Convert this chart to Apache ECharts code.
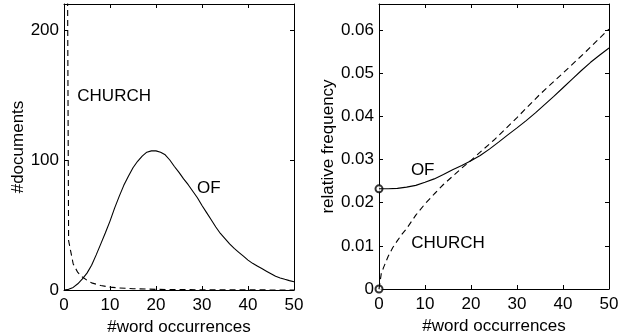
<!DOCTYPE html>
<html>
<head>
<meta charset="utf-8">
<script src="https://cdn.jsdelivr.net/npm/echarts@6/dist/echarts.min.js"></script>
<style>html,body{margin:0;padding:0;background:#fff}#c{width:631px;height:334px}</style>
</head>
<body>
<div id="c"></div>
<script>
// ---- data ----
// Left panel: number of documents vs number of word occurrences
var xOfLeft = [0,1,2,3,4,5,6,7,8,9,10,11,12,13,14,15,16,17,18,19,20,21,22,23,24,25,26,27,28,29,30,31,32,33,34,35,36,37,38,39,40,41,42,43,44,45,46,47,48,49,50];
var ofLeft  = [0,0.5,2,4.8,8.5,13,19,27,35.5,44,53,63,72,80.5,87.5,94,99,103,106,107,107,106,104,100,95,90.5,85.5,81,76,71,65,59.5,54,48.5,43.5,39.5,35.5,32,29,26,23,20.5,18.5,16.5,14.5,12.5,10.5,9.3,8.2,7.2,6.4];
var xChurchLeft = [0,1,2,3,4,5,6,8,10,12,15,20,25,30,40,50];
var churchLeft  = [900,38,20,13.5,10,7.5,5.5,3.4,2.2,1.6,1,0.5,0.3,0.2,0.1,0];
// Right panel: relative frequency vs number of word occurrences
var xOfRight = [0,2,4,6,8,10,12,14,16,18,20,22,24,26,28,30,32,34,36,38,40,42,44,46,48,50];
var ofRight  = [0.0232,0.0232,0.0233,0.0236,0.024,0.0247,0.0255,0.0265,0.0276,0.0286,0.0297,0.0309,0.0324,0.034,0.0357,0.0373,0.039,0.0408,0.0427,0.0446,0.0466,0.0486,0.0506,0.0525,0.0542,0.0558];
var xChurchRight = [0,0.5,1,2,3,4,5,6,8,10,12,14,16,18,20,22,25,30,35,40,45,50];
var churchRight  = [0,0.0036,0.005,0.0076,0.0096,0.0112,0.0127,0.014,0.0171,0.0197,0.022,0.0242,0.0261,0.028,0.0298,0.0317,0.0345,0.0397,0.0451,0.05,0.055,0.0602];
// axes
var xTicks = [0,10,20,30,40,50];
var yTicksLeft = [0,100,200];
var yTicksRight = [0,0.01,0.02,0.03,0.04,0.05,0.06];
var xName = '#word occurrences';
var yNameLeft = '#documents';
var yNameRight = 'relative frequency';
var labelsLeft = [{text:'CHURCH', x:10.9, y:149}, {text:'OF', x:31.5, y:78}];
var labelsRight = [{text:'OF', x:9.5, y:0.0276}, {text:'CHURCH', x:15, y:0.0106}];

function pairs(xs, ys){ return xs.map(function(x,i){ return [x, ys[i]]; }); }

var FONT = 'Liberation Sans, Arial, sans-serif';
var FS = 17;

function xAx(grid, pos, show){
  return {
    type:'value', gridIndex:grid, position:pos, min:0, max:50, interval:10,
    axisLine:{show:true, onZero:false, lineStyle:{color:'#000', width:1}},
    axisTick:{show:true, inside:true, length:4, lineStyle:{color:'#000'}},
    axisLabel:{show:show, color:'#000', fontFamily:FONT, fontSize:FS, margin:7,
      formatter:function(v){ return xTicks.indexOf(v) >= 0 ? String(v) : ''; }},
    splitLine:{show:false},
    name: show ? xName : '', nameLocation:'middle', nameGap:20,
    nameTextStyle:{color:'#000', fontFamily:FONT, fontSize:FS}
  };
}
function yAx(grid, pos, show, max, interval, ticks, name, gap){
  return {
    type:'value', gridIndex:grid, position:pos, min:0, max:max, interval:interval,
    axisLine:{show:true, onZero:false, lineStyle:{color:'#000', width:1}},
    axisTick:{show:true, inside:true, length:4, lineStyle:{color:'#000'}},
    axisLabel:{show:show, color:'#000', fontFamily:FONT, fontSize:FS, margin:5,
      formatter:function(v){
        for (var i=0;i<ticks.length;i++){ if (Math.abs(ticks[i]-v) < 1e-9) return String(ticks[i]); }
        return '';
      }},
    splitLine:{show:false},
    name: show ? name : '', nameLocation:'middle', nameGap:gap,
    nameTextStyle:{color:'#000', fontFamily:FONT, fontSize:FS}
  };
}
function labelPoints(list){
  return {
    symbol:'circle', symbolSize:1, itemStyle:{color:'rgba(0,0,0,0)'},
    silent:true, animation:false,
    label:{show:true, position:'inside', color:'#000', fontFamily:FONT, fontSize:FS,
      formatter:function(p){ return p.name; }},
    data:list.map(function(l){ return {name:l.text, coord:[l.x, l.y]}; })
  };
}

var chart = echarts.init(document.getElementById('c'), null, {renderer:'canvas'});
chart.setOption({
  backgroundColor:'#fff',
  animation:false,
  grid:[
    {left:64, top:4, width:230, height:286, containLabel:false, outerBoundsMode:'none'},
    {left:379, top:4, width:230, height:285, containLabel:false, outerBoundsMode:'none'}
  ],
  xAxis:[ xAx(0,'bottom',true), xAx(0,'top',false), xAx(1,'bottom',true), xAx(1,'top',false) ],
  yAxis:[
    yAx(0,'left',true,220,100,yTicksLeft,yNameLeft,34),
    yAx(0,'right',false,220,100,yTicksLeft,'',0),
    yAx(1,'left',true,0.066,0.01,yTicksRight,yNameRight,41),
    yAx(1,'right',false,0.066,0.01,yTicksRight,'',0)
  ],
  series:[
    {type:'line', xAxisIndex:0, yAxisIndex:0, data:pairs(xOfLeft, ofLeft),
     symbol:'none', lineStyle:{color:'#000', width:1.1}, silent:true, markPoint:labelPoints(labelsLeft)},
    {type:'line', xAxisIndex:0, yAxisIndex:0, data:pairs(xChurchLeft, churchLeft), clip:true,
     symbol:'none', lineStyle:{color:'#000', width:1.1, type:[6,4]}, silent:true},
    {type:'line', xAxisIndex:2, yAxisIndex:2, data:pairs(xOfRight, ofRight),
     symbol:'none', lineStyle:{color:'#000', width:1.1}, silent:true, markPoint:labelPoints(labelsRight)},
    {type:'line', xAxisIndex:2, yAxisIndex:2, data:pairs(xChurchRight, churchRight),
     symbol:'none', lineStyle:{color:'#000', width:1.1, type:[6,4]}, silent:true},
    {type:'scatter', xAxisIndex:2, yAxisIndex:2, silent:true, clip:false,
     data:[[xOfRight[0], ofRight[0]], [xChurchRight[0], churchRight[0]]],
     symbol:'emptyCircle', symbolSize:7, itemStyle:{color:'#000', borderColor:'#000', borderWidth:1}}
  ]
});
</script>
</body>
</html>
